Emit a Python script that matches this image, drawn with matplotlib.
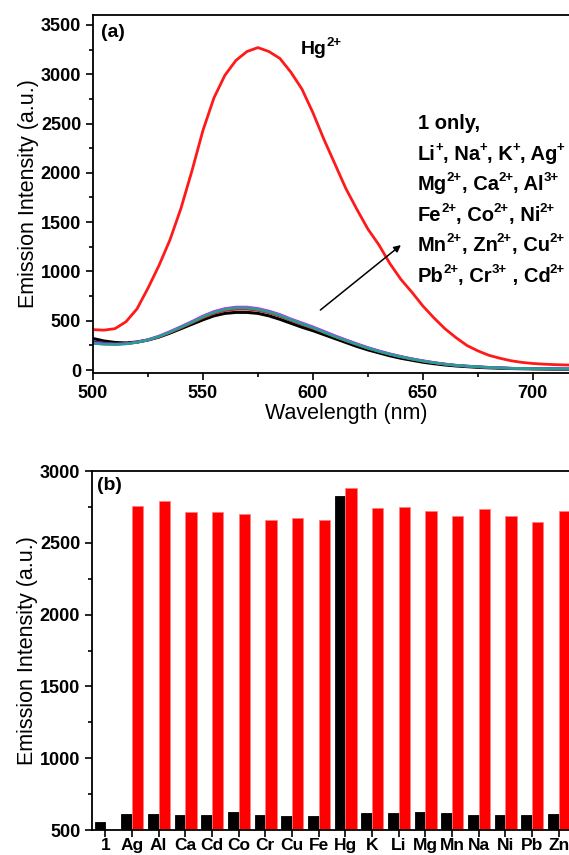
import matplotlib.pyplot as plt
import numpy as np

plt.rcParams['font.family'] = ['Liberation Sans', 'DejaVu Sans']

# (a) emission spectra, every 5 nm
wavelength = list(range(500, 725, 5))
hg = [410, 405, 420, 490, 620, 830, 1060, 1320, 1640, 2020, 2430, 2760, 2990, 3140, 3230,
      3270, 3230, 3160, 3020, 2850, 2610, 2340, 2090, 1840, 1630, 1430, 1270, 1080, 920, 790,
      650, 530, 420, 330, 250, 195, 150, 120, 95, 78, 67, 60, 55, 52, 50]
only1 = [320, 295, 280, 275, 285, 305, 335, 375, 420, 465, 510, 550, 575, 585, 585,
         575, 550, 515, 475, 435, 400, 360, 320, 280, 240, 205, 175, 145, 120, 100,
         80, 65, 52, 42, 35, 28, 23, 19, 16, 14, 12, 11, 10, 9, 9]
ion_magenta = [275, 265, 262, 268, 284, 310, 346, 392, 442, 494, 550, 595, 625, 640, 640,
               626, 600, 565, 520, 480, 440, 395, 350, 308, 268, 230, 196, 166, 140, 116,
               96, 78, 63, 51, 42, 35, 29, 24, 20, 17, 15, 14, 13, 12, 11]
ion_blue = [285, 270, 264, 268, 282, 307, 342, 388, 438, 490, 545, 590, 620, 634, 634,
            620, 594, 558, 514, 474, 434, 390, 345, 304, 264, 226, 193, 163, 137, 114,
            94, 76, 61, 49, 41, 34, 28, 23, 19, 16, 14, 13, 12, 11, 10]
ion_red = [290, 275, 266, 268, 280, 303, 336, 380, 428, 478, 530, 574, 602, 616, 617,
           604, 580, 545, 502, 462, 422, 380, 338, 296, 258, 221, 188, 159, 133, 110,
           90, 73, 59, 47, 39, 32, 26, 22, 18, 15, 13, 12, 11, 10, 10]
ion_teal = [270, 262, 260, 265, 280, 305, 340, 385, 435, 485, 540, 585, 615, 630, 630,
            615, 590, 555, 510, 470, 430, 385, 340, 300, 260, 222, 190, 160, 135, 112,
            92, 75, 60, 48, 40, 33, 27, 22, 19, 16, 14, 13, 12, 11, 10]

# legend-like text block; '^' marks the superscript part
ion_lines = ['1 only,',
             'Li^+|, Na^+|, K^+|, Ag^+',
             'Mg^2+|, Ca^2+|, Al^3+',
             'Fe^2+|, Co^2+|, Ni^2+',
             'Mn^2+|, Zn^2+|, Cu^2+',
             'Pb^2+|, Cr^3+| , Cd^2+']

# (b) bar chart
cats = ['1', 'Ag', 'Al', 'Ca', 'Cd', 'Co', 'Cr', 'Cu', 'Fe', 'Hg', 'K', 'Li', 'Mg', 'Mn',
        'Na', 'Ni', 'Pb', 'Zn']
black_vals = [558, 609, 613, 605, 602, 623, 607, 598, 600, 2826, 620, 620, 625, 620,
              606, 604, 604, 613]
red_vals = [np.nan, 2758, 2791, 2717, 2717, 2703, 2661, 2675, 2657, 2880, 2740, 2747, 2723,
            2690, 2733, 2685, 2643, 2721]

fig = plt.figure(figsize=(5.69, 8.55), dpi=100)
renderer = fig.canvas.get_renderer()


def sup_text(ax, x, y, s, size=14.5, supsize=9.5):
    # draws "Base^sup|Base^sup" piece by piece, measuring widths in pixels
    dx = 0.0
    for p in s.split('|'):
        base, _, sup = p.partition('^')
        t = ax.annotate(base, xy=(x, y), xytext=(dx, 0), textcoords='offset pixels',
                        fontsize=size, fontweight='bold', va='baseline', ha='left')
        dx += t.get_window_extent(renderer).width - 0.5
        if sup:
            st = ax.annotate(sup, xy=(x, y), xytext=(dx, size * 0.62),
                             textcoords='offset pixels', fontsize=supsize,
                             fontweight='bold', va='baseline', ha='left')
            dx += st.get_window_extent(renderer).width


# ---- panel (a)
ax1 = fig.add_axes([0.1634, 0.5637, 0.889, 0.4187])
for ys, c in [(ion_red, '#cc2222'), (ion_blue, '#1a1aff'), (ion_magenta, '#cc33ff'),
              (ion_teal, '#1f9e9e')]:
    ax1.plot(wavelength, ys, color=c, lw=1.8)
ax1.plot(wavelength, only1, color='black', lw=2.2, zorder=1.5)
ax1.plot(wavelength, ion_teal, color='#2a9d8f', lw=1.6)
ax1.plot(wavelength, hg, color='#ff1a1a', lw=2)

ax1.set_xlim(500, 730)
ax1.set_ylim(-30, 3600)
ax1.set_xticks([500, 550, 600, 650, 700])
ax1.set_xticks([525, 575, 625, 675, 725], minor=True)
ax1.set_yticks(range(0, 3501, 500))
ax1.set_yticks(range(250, 3501, 500), minor=True)
ax1.set_xlabel('Wavelength (nm)', fontsize=15.5, labelpad=1)
ax1.set_ylabel('Emission Intensity (a.u.)', fontsize=15.5, labelpad=1.5)

ax1.text(0.016, 0.975, '(a)', transform=ax1.transAxes, fontsize=14, fontweight='bold',
         va='top', ha='left')
sup_text(ax1, 594.5, 3200, 'Hg^2+', size=14, supsize=9.5)
for i, s in enumerate(ion_lines):
    sup_text(ax1, 647.8, 2445 - i * 310, s)
ax1.annotate('', xy=(641, 1285), xytext=(602.4, 591),
             arrowprops=dict(arrowstyle='-|>', color='black', lw=1.1, mutation_scale=10))

# ---- panel (b)
ax2 = fig.add_axes([0.1617, 0.0292, 0.8436, 0.4199])
x = np.arange(len(cats))
ax2.bar(x - 0.4, black_vals, width=0.4, align='edge', color='black',
        edgecolor='black', lw=0.6)
ax2.bar(x, red_vals, width=0.43, align='edge', color='#ff0000', edgecolor='#ff8080',
        lw=0.6)

ax2.set_xlim(-0.5, 17.5)
ax2.set_ylim(500, 3000)
ax2.set_xticks(x)
ax2.set_xticklabels(cats)
ax2.set_yticks(range(500, 3001, 500))
ax2.set_yticks(range(750, 3000, 500), minor=True)
ax2.set_ylabel('Emission Intensity (a.u.)', fontsize=15.5, labelpad=1)
ax2.text(0.011, 0.982, '(b)', transform=ax2.transAxes, fontsize=14, fontweight='bold',
         va='top', ha='left')

for ax in (ax1, ax2):
    for sp in ax.spines.values():
        sp.set_linewidth(1.3)
    ax.tick_params(which='both', direction='out', width=1.2, labelsize=13)
    ax.tick_params(which='major', length=5)
    ax.tick_params(which='minor', length=3)
    for lab in ax.get_xticklabels() + ax.get_yticklabels():
        lab.set_fontweight('bold')
ax2.tick_params(axis='x', pad=1, labelsize=12.5)

fig.savefig('out.png', dpi=100)
